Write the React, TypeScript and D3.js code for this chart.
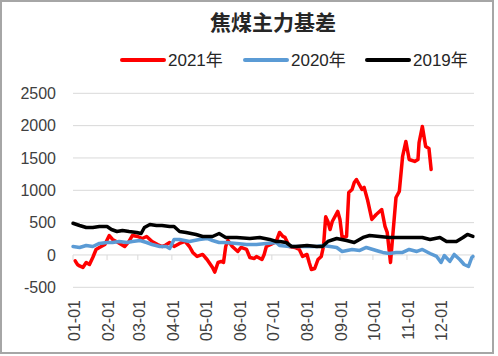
import React from "react";
import * as d3 from "d3";

const TITLE = "焦煤主力基差";
const SERIES_NAMES = ["2021年", "2020年", "2019年"];
const SERIES_COLORS = ["#ff0000", "#5b9bd5", "#000000"];
const Y_TICKS = [-500, 0, 500, 1000, 1500, 2000, 2500];

const dates2021 = ["01-03","01-05","01-07","01-10","01-13","01-16","01-19","01-22","01-25","01-30","02-03","02-06","02-11","02-17","02-21","02-24","03-01","03-05","03-09","03-14","03-19","03-23","03-26","03-30","04-03","04-08","04-13","04-17","04-20","04-24","04-29","05-03","05-08","05-10","05-13","05-16","05-18","05-20","05-22","05-26","05-31","06-03","06-08","06-11","06-15","06-17","06-22","06-24","06-26","06-30","07-05","07-08","07-11","07-13","07-17","07-22","07-26","07-29","08-02","08-04","08-06","08-09","08-12","08-15","08-17","08-19","08-21","08-23","08-25","08-30","09-01","09-03","09-07","09-09","09-12","09-14","09-16","09-21","09-23","09-26","09-30","10-04","10-09","10-12","10-14","10-17","10-19","10-22","10-25","10-28","10-31","11-03","11-08","11-11","11-12","11-15","11-18","11-21","11-23"];
const values2021 = [-90,-147,-170,-193,-116,-147,-39,85,116,162,301,240,193,131,209,301,286,255,286,209,162,131,150,193,131,178,209,131,39,-23,8,-70,-193,-265,-116,-100,-116,131,225,131,54,116,85,-39,-54,-23,-70,8,131,162,209,348,286,271,131,116,85,-23,8,-116,-224,-209,-70,-23,131,590,518,394,518,673,549,271,286,966,1013,1121,1167,1013,1044,858,549,626,703,441,348,-116,286,889,982,1523,1755,1476,1446,1476,1739,1987,1677,1647,1322];

const dates2020 = ["01-01","01-07","01-13","01-19","01-25","02-01","02-06","02-12","02-19","02-24","03-03","03-09","03-14","03-21","03-27","03-30","04-03","04-08","04-17","04-26","05-03","05-08","05-14","05-20","05-30","06-08","06-17","06-26","07-05","07-08","07-17","07-28","08-11","08-16","08-23","08-29","09-03","09-12","09-19","09-25","10-01","10-07","10-10","10-16","10-22","10-28","11-03","11-10","11-15","11-22","11-28","12-02","12-05","12-10","12-14","12-19","12-23","12-27","12-30","12-31"];
const values2020 = [131,116,147,131,178,193,193,209,193,209,224,193,162,131,131,100,240,240,209,240,255,224,193,193,178,162,162,178,193,147,131,131,131,147,131,116,54,85,70,116,85,54,39,23,39,39,85,54,85,23,-23,-116,-8,-100,8,-70,-147,-178,-39,-23];

const dates2019 = ["01-01","01-07","01-13","01-19","01-25","02-01","02-05","02-10","02-15","02-21","02-28","03-04","03-07","03-12","03-18","03-23","03-30","04-03","04-08","04-14","04-23","04-29","05-08","05-14","05-20","05-30","06-11","06-20","06-29","07-05","07-08","07-14","07-19","07-23","08-02","08-11","08-16","08-21","08-29","09-07","09-14","09-22","09-28","10-07","10-16","10-25","11-03","11-15","11-22","12-01","12-07","12-16","12-22","12-26","12-31"];
const values2019 = [490,456,425,425,440,440,394,363,379,363,348,332,425,471,456,456,440,440,363,348,317,286,286,332,271,271,255,271,240,209,209,193,131,131,147,131,131,209,255,224,193,271,301,286,271,271,271,271,240,271,209,209,271,317,286];

const parse = d3.timeParse("%Y-%m-%d");
const toDate = (md: string) => parse("2021-" + md) as Date;

export default function App() {
  const W = 498, H = 356;
  const x0 = 73, x1 = 474;
  const x = d3.scaleTime().domain([new Date(2021, 0, 1), new Date(2022, 0, 1)]).range([x0, x1]);
  const y = d3.scaleLinear().domain([-500, 2500]).range([287.3, 93.3]);
  const line = d3.line<[Date, number]>().x(d => x(d[0])).y(d => y(d[1]));

  const series = [
    { dates: dates2021, values: values2021 },
    { dates: dates2020, values: values2020 },
    { dates: dates2019, values: values2019 },
  ].map((s, i) => ({
    name: SERIES_NAMES[i],
    color: SERIES_COLORS[i],
    pts: s.dates.map((d, j) => [toDate(d), s.values[j]] as [Date, number]),
  }));

  const months = d3.timeMonth.range(new Date(2021, 0, 1), new Date(2022, 0, 1));
  const fmt = d3.timeFormat("%m-%d");
  const y0 = y(0);
  const legendX = [122, 245, 367];
  const font = "'Liberation Sans', Arial, 'Noto Sans CJK SC', sans-serif";

  return (
    <svg width={W} height={H} style={{ position: "absolute", left: 0, top: 0, background: "#fff" }}>
      <rect x={0} y={0} width={W} height={H} fill="#fff" />
      <rect x={1} y={1} width={492} height={352} fill="#fff" stroke="#a6a6a6" strokeWidth={2} />
      <text x={273} y={30} textAnchor="middle" fontSize={21} fontWeight="bold" fontFamily="'Noto Sans CJK SC', sans-serif" fill="#262626">{TITLE}</text>
      {series.map((s, i) => (
        <g key={s.name}>
          <line x1={legendX[i]} x2={legendX[i] + 42} y1={60} y2={60} stroke={s.color} strokeWidth={4} strokeLinecap="round" />
          <text x={legendX[i] + 46} y={66} fontSize={17} fontFamily={font} fill="#262626">{s.name}</text>
        </g>
      ))}
      {Y_TICKS.map(t => (
        <g key={t}>
          {t !== 0 && <line x1={x0} x2={x1} y1={y(t)} y2={y(t)} stroke="#d9d9d9" strokeWidth={1} />}
          <text x={56} y={y(t)} dy="0.35em" textAnchor="end" fontSize={16} fontFamily={font} fill="#404040">{t}</text>
        </g>
      ))}
      <line x1={x0} x2={x1} y1={y0} y2={y0} stroke="#d9d9d9" strokeWidth={1} />
      {[...months, new Date(2022, 0, 1)].map((m, i) => (
        <line key={i} x1={x(m)} x2={x(m)} y1={y0} y2={y0 + 5} stroke="#d9d9d9" strokeWidth={1} />
      ))}
      {months.map((m, i) => (
        <text key={i} transform={`translate(${x(m) + 1.5},300) rotate(-90)`} textAnchor="end" dy="0.35em" fontSize={16} fontFamily={font} fill="#404040">{fmt(m)}</text>
      ))}
      {series.map(s => (
        <path key={s.name} d={line(s.pts) || ""} fill="none" stroke={s.color} strokeWidth={3.5} strokeLinejoin="round" strokeLinecap="round" />
      ))}
    </svg>
  );
}
